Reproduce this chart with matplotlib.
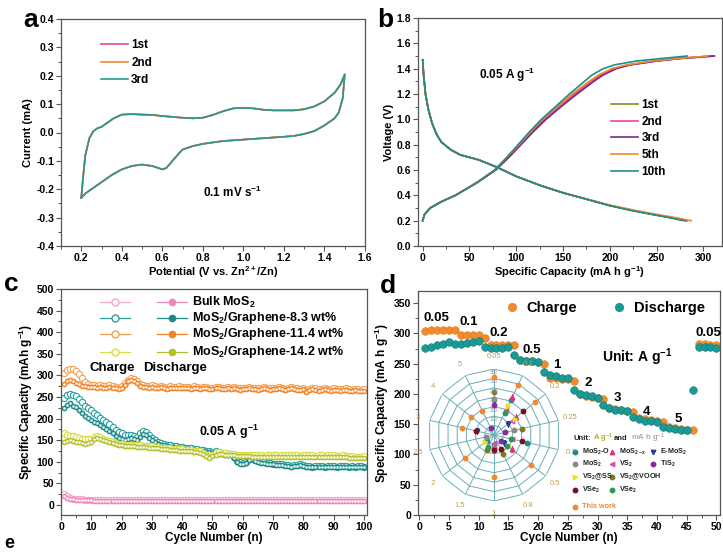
import numpy as np
import matplotlib
matplotlib.use("Agg")
import matplotlib.pyplot as plt
from matplotlib.lines import Line2D
from matplotlib.ticker import MultipleLocator

plt.rcParams['font.family'] = ['Liberation Sans', 'DejaVu Sans']
plt.rcParams['font.weight'] = 'bold'
plt.rcParams['axes.labelweight'] = 'bold'
plt.rcParams['mathtext.fontset'] = 'custom'
plt.rcParams['mathtext.rm'] = 'Liberation Sans:bold'
plt.rcParams['mathtext.it'] = 'Liberation Sans:bold'
plt.rcParams['mathtext.bf'] = 'Liberation Sans:bold'
plt.rcParams['mathtext.default'] = 'rm'

# ---------------- data ----------------
# (a) CV loop, 0.1 mV/s
cv_up_v = [0.2, 0.21, 0.22, 0.24, 0.26, 0.28, 0.3, 0.33, 0.36, 0.4, 0.45, 0.5, 0.55, 0.6, 0.65,
           0.7, 0.75, 0.8, 0.85, 0.9, 0.95, 1.0, 1.05, 1.1, 1.15, 1.2, 1.25, 1.3, 1.35, 1.4,
           1.45, 1.48, 1.5]
cv_up_i = [-0.23, -0.15, -0.08, -0.02, 0.005, 0.015, 0.02, 0.035, 0.05, 0.063, 0.065, 0.063,
           0.062, 0.058, 0.055, 0.052, 0.05, 0.052, 0.062, 0.075, 0.085, 0.087, 0.085, 0.08,
           0.078, 0.078, 0.078, 0.082, 0.092, 0.11, 0.14, 0.17, 0.205]
cv_dn_v = [1.5, 1.49, 1.47, 1.45, 1.4, 1.35, 1.3, 1.25, 1.2, 1.1, 1.0, 0.9, 0.8, 0.75, 0.7,
           0.68, 0.65, 0.62, 0.6, 0.58, 0.55, 0.5, 0.45, 0.4, 0.35, 0.3, 0.25, 0.22, 0.2]
cv_dn_i = [0.205, 0.12, 0.07, 0.05, 0.025, 0.005, -0.005, -0.012, -0.015, -0.02, -0.025, -0.03,
           -0.04, -0.048, -0.06, -0.075, -0.1, -0.125, -0.13, -0.125, -0.118, -0.113, -0.118,
           -0.13, -0.15, -0.175, -0.2, -0.215, -0.23]
cv_labels = ['1st', '2nd', '3rd']

# (b) charge / discharge profiles
gcd_labels = ['1st', '2nd', '3rd', '5th', '10th']
chg_volt = [0.2, 0.25, 0.3, 0.35, 0.4, 0.5, 0.6, 0.7, 0.8, 0.9, 1.0, 1.1, 1.2, 1.3, 1.35,
            1.4, 1.43, 1.46, 1.48, 1.5]
chg_cap_1 = [0, 2, 8, 20, 35, 58, 78, 91, 104, 116, 129, 145, 162, 180, 190, 204, 220, 248, 273, 310]
chg_cap_2 = [0, 2, 8, 20, 35, 58, 78, 92, 105, 117, 130, 146, 163, 181, 191, 205, 221, 249, 274, 310]
chg_cap_3 = [0, 2, 8, 20, 35, 58, 78, 92, 105, 118, 132, 148, 165, 183, 193, 207, 222, 250, 275, 312]
chg_cap_5 = [0, 2, 8, 20, 35, 57, 77, 90, 103, 115, 128, 144, 160, 178, 188, 202, 218, 245, 272, 305]
chg_cap_10 = [0, 2, 8, 20, 35, 58, 77, 90, 102, 114, 127, 142, 157, 173, 181, 193, 205, 228, 255, 283]
dis_volt = [1.47, 1.35, 1.2, 1.08, 0.97, 0.88, 0.82, 0.76, 0.72, 0.70, 0.68, 0.65, 0.62, 0.55,
            0.48, 0.42, 0.37, 0.32, 0.28, 0.245, 0.225, 0.2]
dis_cap = [0, 1, 3, 6, 10, 15, 20, 30, 40, 50, 60, 70, 80, 100, 125, 150, 175, 200, 225, 250, 265, 282]
dis_cap_5 = [0, 1, 3, 6, 10, 15, 20, 30, 40, 50, 60, 70, 80, 100, 125, 150, 176, 202, 228, 254, 270, 287]
dis_cap_10 = [0, 1, 3, 6, 10, 15, 20, 30, 40, 50, 60, 70, 80, 100, 125, 150, 175, 199, 223, 248, 263, 279]

# (c) cycling at 0.05 A/g
c_names = ['Bulk MoS$_2$', 'MoS$_2$/Graphene-8.3 wt%', 'MoS$_2$/Graphene-11.4 wt%',
           'MoS$_2$/Graphene-14.2 wt%']
bulk_chg = [25, 20, 17, 15, 14, 13, 13, 12, 12, 12, 12, 11, 11, 11, 11, 11, 11, 11, 11, 11,
            11, 11, 11, 11, 11, 11, 11, 11, 11, 11, 11, 11, 11, 11, 11, 11, 11, 11, 11, 11,
            11, 11, 11, 11, 11, 11, 11, 11, 11, 11, 11, 11, 11, 11, 11, 11, 11, 11, 11, 11,
            11, 11, 11, 11, 11, 11, 11, 11, 11, 11, 11, 11, 11, 11, 11, 11, 11, 11, 11, 11,
            11, 11, 11, 11, 11, 11, 11, 11, 11, 11, 11, 11, 11, 11, 11, 11, 11, 11, 11, 11]
bulk_dis = [20, 16, 14, 13, 12, 12, 11, 11, 11, 11, 10, 10, 10, 10, 10, 10, 10, 10, 10, 10,
            10, 10, 10, 10, 10, 10, 10, 10, 10, 10, 10, 10, 10, 10, 10, 10, 10, 10, 10, 10,
            10, 10, 10, 10, 10, 10, 10, 10, 10, 10, 9, 9, 9, 9, 9, 9, 9, 9, 9, 9,
            9, 9, 9, 9, 9, 9, 9, 9, 9, 9, 9, 9, 9, 9, 9, 9, 9, 9, 9, 9,
            9, 9, 9, 9, 9, 9, 9, 9, 9, 9, 9, 9, 9, 9, 9, 9, 9, 9, 9, 9]
g83_chg = [248, 254, 256, 255, 252, 245, 238, 230, 224, 219, 214, 208, 202, 197, 192, 187, 180, 174, 170, 166,
           163, 162, 163, 160, 158, 166, 171, 168, 161, 155, 150, 146, 143, 141, 140, 138, 137, 136, 135, 134,
           133, 132, 131, 130, 129, 128, 127, 126, 125, 123, 124, 122, 121, 120, 119, 118, 111, 103, 99, 97,
           100, 106, 108, 104, 101, 100, 99, 98, 97, 96, 95, 94, 95, 93, 92, 91, 92, 93, 94, 92,
           91, 90, 89, 90, 91, 90, 89, 90, 91, 90, 89, 90, 91, 90, 89, 90, 89, 90, 90, 89]
g83_dis = [225, 232, 236, 230, 226, 220, 212, 207, 202, 198, 193, 189, 185, 180, 176, 172, 166, 160, 156, 152,
           150, 152, 155, 152, 150, 158, 164, 162, 155, 150, 145, 142, 140, 138, 137, 135, 134, 133, 132, 131,
           130, 129, 128, 127, 126, 125, 124, 123, 122, 120, 121, 119, 118, 117, 116, 115, 108, 100, 96, 94,
           98, 104, 106, 102, 99, 98, 97, 96, 95, 94, 93, 92, 93, 91, 90, 89, 90, 91, 92, 90,
           89, 88, 87, 88, 89, 88, 87, 88, 89, 88, 87, 88, 89, 88, 87, 88, 87, 88, 88, 87]
g114_chg = [305, 312, 316, 314, 310, 303, 293, 284, 280, 278, 278, 276, 277, 275, 276, 277, 275, 273, 272, 275,
            282, 290, 294, 292, 286, 280, 277, 276, 275, 277, 275, 274, 276, 273, 272, 275, 274, 273, 275, 274,
            273, 274, 272, 275, 273, 271, 273, 274, 272, 271, 273, 274, 272, 271, 273, 272, 274, 271, 270, 272,
            271, 273, 272, 271, 270, 272, 273, 271, 270, 271, 272, 273, 271, 269, 271, 273, 271, 270, 269, 271,
            266, 269, 271, 270, 268, 269, 271, 269, 268, 270, 269, 268, 269, 270, 268, 267, 269, 268, 267, 268]
g114_dis = [280, 286, 289, 287, 283, 279, 276, 275, 274, 273, 274, 272, 273, 271, 272, 274, 271, 270, 268, 272,
            278, 286, 290, 288, 282, 276, 274, 273, 272, 274, 272, 271, 273, 270, 269, 272, 271, 270, 272, 271,
            270, 271, 269, 272, 270, 268, 270, 271, 269, 268, 270, 271, 269, 268, 270, 269, 271, 268, 267, 269,
            268, 270, 269, 268, 267, 269, 270, 268, 267, 268, 269, 270, 268, 266, 268, 270, 268, 267, 266, 268,
            262, 266, 268, 267, 265, 266, 268, 266, 265, 267, 266, 265, 266, 267, 265, 264, 266, 265, 264, 265]
g142_chg = [166, 163, 160, 159, 158, 156, 154, 152, 152, 154, 157, 159, 157, 153, 151, 148, 146, 144, 142, 141,
            140, 140, 139, 139, 138, 138, 137, 137, 136, 136, 135, 134, 133, 132, 132, 131, 130, 130, 129, 129,
            128, 127, 127, 126, 125, 124, 121, 117, 113, 116, 120, 122, 121, 120, 119, 118, 118, 117, 117, 116,
            116, 116, 115, 115, 115, 115, 114, 115, 115, 115, 115, 114, 115, 115, 115, 115, 115, 115, 114, 115,
            115, 115, 115, 114, 115, 115, 114, 115, 115, 115, 114, 114, 115, 114, 113, 113, 112, 111, 111, 113]
g142_dis = [145, 148, 150, 149, 147, 145, 143, 142, 144, 147, 152, 155, 154, 150, 148, 145, 143, 141, 139, 138,
            137, 137, 136, 136, 135, 135, 134, 134, 133, 133, 132, 131, 130, 129, 129, 128, 127, 127, 126, 126,
            125, 124, 124, 123, 122, 121, 118, 114, 110, 113, 117, 119, 118, 117, 116, 115, 115, 114, 114, 113,
            113, 113, 112, 112, 112, 112, 111, 112, 112, 112, 112, 111, 112, 112, 112, 112, 112, 112, 111, 112,
            112, 112, 112, 111, 112, 112, 111, 112, 112, 112, 111, 111, 112, 111, 110, 110, 109, 108, 108, 110]

# (d) rate performance
rate_chg = [304, 305, 305, 306, 306, 305, 298, 298, 297, 297, 293, 280, 280, 280, 280, 280,
            256, 255, 254, 252, 250, 227, 226, 225, 224, 221, 200, 197, 195, 194, 191,
            177, 175, 173, 172, 170, 161, 158, 157, 156, 154, 145, 143, 142, 141, 140,
            283, 282, 281, 280]
rate_dis = [276, 278, 280, 283, 286, 282, 283, 284, 286, 287, 277, 276, 276, 276, 277,
            265, 256, 255, 254, 253, 237, 231, 229, 227, 226, 207, 200, 198, 196, 194,
            182, 176, 174, 173, 172, 162, 158, 156, 155, 154, 146, 143, 142, 141, 140,
            206, 278, 278, 277, 276]
rate_names = ['0.05', '0.1', '0.2', '0.5', '1', '2', '3', '4', '5', '0.05']
rate_lab_x = [2.9, 8.4, 13.4, 19.0, 23.2, 28.5, 33.4, 38.3, 43.6, 48.6]
rate_lab_y = [325, 318, 300, 272, 248, 218, 193, 170, 158, 300]

# (d) inset radar: current density spokes and capacities
spokes = ['0.05', '0.1', '0.2', '0.25', '0.3', '0.5', '0.8', '1', '1.5', '2', '2.5', '3', '4', '5']
radar_sets = [
    # label, color, marker, rates, capacities
    ('MoS$_2$-O', '#1a8f8a', 'o', ['0.1', '0.3', '1', '2'], [205, 180, 70, 50]),
    ('MoS$_{2-x}$', '#e0307a', '^', ['0.1', '0.2', '0.5', '1'], [225, 150, 120, 60]),
    ('E-MoS$_2$', '#2a3a9a', 'v', ['0.05', '0.2', '0.5', '3'], [175, 95, 70, 90]),
    ('MoS$_2$', '#8a8a8a', 'o', ['0.05', '0.25', '1', '2.5'], [190, 110, 55, 45]),
    ('VS$_2$', '#d050b0', '<', ['0.1', '0.2', '0.3', '1'], [150, 120, 100, 40]),
    ('TiS$_2$', '#8a2a9a', 'o', ['0.05', '0.25', '0.5', '5'], [160, 60, 50, 40]),
    ('VS$_2$@SS', '#e8e020', '>', ['0.1', '0.2', '0.5', '2'], [170, 140, 95, 60]),
    ('VS$_2$@VOOH', '#7a7a20', 'o', ['0.05', '0.25', '0.8', '1.5'], [230, 150, 110, 90]),
    ('VSe$_2$', '#7a1020', 'o', ['0.2', '0.3', '0.8', '1', '3'], [200, 150, 80, 80, 100]),
    ('VSe$_2$', '#2a9a50', 'o', ['0.1', '0.3', '0.5', '1.5'], [130, 90, 90, 70]),
    ('This work', '#f08a30', 'o', ['0.05', '0.1', '0.2', '0.5', '1', '2', '3', '4', '5'],
     [305, 297, 280, 252, 225, 195, 172, 157, 141]),
]
radar_rings = [50, 100, 150, 200, 250, 300, 350]

# ---------------- helpers ----------------
W, H = 723, 553
SPINE = '#555555'


def px_rect(left, top, right, bottom):
    return [left / W, 1 - bottom / H, (right - left) / W, (bottom - top) / H]


def style(ax, xmaj, xmin, ymaj, ymin):
    for s in ax.spines.values():
        s.set_color(SPINE)
        s.set_linewidth(0.9)
    ax.xaxis.set_major_locator(MultipleLocator(xmaj))
    ax.xaxis.set_minor_locator(MultipleLocator(xmin))
    ax.yaxis.set_major_locator(MultipleLocator(ymaj))
    ax.yaxis.set_minor_locator(MultipleLocator(ymin))
    ax.tick_params(which='major', direction='out', length=3.5, width=0.8, color=SPINE,
                   labelsize=7.5, pad=1.5)
    ax.tick_params(which='minor', direction='out', length=2, width=0.7, color=SPINE)


fig = plt.figure(figsize=(7.23, 5.53), dpi=100)

# ---------------- (a) ----------------
ax = fig.add_axes(px_rect(61, 19, 365, 246))
cv_v = cv_up_v + cv_dn_v[1:]
cv_i = cv_up_i + cv_dn_i[1:]
for lab, col in zip(cv_labels, ['#e0488f', '#f28a30', '#2a9a90']):
    ax.plot(cv_v, cv_i, color=col, lw=1.2, label=lab)
ax.set_xlim(0.1, 1.6)
ax.set_ylim(-0.4, 0.4)
style(ax, 0.2, 0.1, 0.1, 0.05)
ax.set_yticks([0.4, 0.3, 0.2, 0.1, 0.0, -0.1, -0.2, -0.3, -0.4])
ax.set_yticklabels(['0.4', '0.3', '0.2', '0.1', '0.0', '-0.1', '-0.2', '-0.3', '-0.4'])
ax.set_xticks([0.2, 0.4, 0.6, 0.8, 1.0, 1.2, 1.4, 1.6])
ax.set_xlabel('Potential (V vs. Zn$^{2+}$/Zn)', fontsize=8, labelpad=1)
ax.set_ylabel('Current (mA)', fontsize=8, labelpad=2)
ax.text(0.8, -0.21, '0.1 mV s$^{-1}$', fontsize=8.5, ha='left', va='center')
ax.legend(loc='upper left', bbox_to_anchor=(0.13, 0.91), frameon=False, fontsize=8.5,
          handlelength=2.3, handletextpad=0.3, labelspacing=0.45, borderpad=0, borderaxespad=0)
fig.text(23 / W, 1 - 27 / H, 'a', fontsize=19, ha='left', va='baseline')

# ---------------- (b) ----------------
ax = fig.add_axes(px_rect(418, 18, 722, 246))
b_cols = ['#7f8f20', '#e8489a', '#7b2a8c', '#f28a30', '#1a8f8a']
chg_caps = [chg_cap_1, chg_cap_2, chg_cap_3, chg_cap_5, chg_cap_10]
dis_caps = [dis_cap, dis_cap, dis_cap, dis_cap_5, dis_cap_10]
for lab, col, cc, dc in zip(gcd_labels, b_cols, chg_caps, dis_caps):
    ax.plot(cc, chg_volt, color=col, lw=1.2, label=lab)
    ax.plot(dc, dis_volt, color=col, lw=1.2)
ax.set_xlim(-5, 320)
ax.set_ylim(0, 1.8)
style(ax, 50, 25, 0.2, 0.1)
ax.set_xlabel('Specific Capacity (mA h g$^{-1}$)', fontsize=8, labelpad=1)
ax.set_ylabel('Voltage (V)', fontsize=8, labelpad=2)
ax.text(60, 1.35, '0.05 A g$^{-1}$', fontsize=8.5, ha='left', va='center')
ax.legend(loc='upper left', bbox_to_anchor=(0.635, 0.645), frameon=False, fontsize=8.5,
          handlelength=2.3, handletextpad=0.3, labelspacing=0.4, borderpad=0, borderaxespad=0)
fig.text(377 / W, 1 - 27 / H, 'b', fontsize=19, ha='left', va='baseline')

# ---------------- (c) ----------------
ax = fig.add_axes(px_rect(61, 289, 367, 515))
cyc = np.arange(1, 101)
c_series = [(bulk_chg, bulk_dis, '#f4a8cc', '#ec88b8'),
            (g83_chg, g83_dis, '#2aa0a0', '#1a8a88'),
            (g114_chg, g114_dis, '#f5a050', '#f08428'),
            (g142_chg, g142_dis, '#d8dc40', '#b4c02a')]
for chg, dis, cc, dc in c_series:
    ax.plot(cyc, chg, color=cc, lw=0.8, marker='o', ms=4.5, mfc='white', mec=cc, mew=0.8)
    ax.plot(cyc, dis, color=dc, lw=0.8, marker='o', ms=3.6, mfc=dc, mec=dc, mew=0.5)
    ax.plot(cyc, dis, ls='none', marker='o', ms=1.0, color='white', alpha=0.8)
ax.set_xlim(0, 101)
ax.set_ylim(-23, 500)
style(ax, 10, 5, 50, 25)
ax.set_xticks(range(0, 101, 10))
ax.set_yticks(range(0, 501, 50))
ax.set_xlabel('Cycle Number (n)', fontsize=8.5, labelpad=0)
ax.set_ylabel('Specific Capacity (mAh g$^{-1}$)', fontsize=8.5, labelpad=1)
ax.text(9.5, 317, 'Charge', fontsize=9.5, ha='left', va='center')
ax.text(27, 317, 'Discharge', fontsize=9.5, ha='left', va='center')
ax.text(45.4, 169, '0.05 A g$^{-1}$', fontsize=9, ha='left', va='center')
leg_y = [0.942, 0.872, 0.801, 0.721]
for name, (chg, dis, cc, dc), yy in zip(c_names, c_series, leg_y):
    ax.plot([0.127, 0.176, 0.225], [yy] * 3, transform=ax.transAxes, color=cc, lw=0.9,
            marker='o', ms=5, mfc='white', mec=cc, markevery=[1])
    ax.plot([0.314, 0.363, 0.412], [yy] * 3, transform=ax.transAxes, color=dc, lw=0.9,
            marker='o', ms=4.5, mfc=dc, mec=dc, markevery=[1])
    ax.text(0.428, yy, name, transform=ax.transAxes, fontsize=9, ha='left', va='center')
fig.text(4 / W, 1 - 291 / H, 'c', fontsize=19, ha='left', va='baseline')

# ---------------- (d) ----------------
ax = fig.add_axes(px_rect(418, 291, 720, 515))
rc = np.arange(1, 51)
ax.plot(rc, rate_chg, ls='none', marker='o', ms=5.5, color='#f28a30', mec='#e07a20', mew=0.4,
        label='Charge')
ax.plot(rc, rate_dis, ls='none', marker='o', ms=5.5, color='#1a9a94', mec='#0f7a75', mew=0.4,
        label='Discharge')
ax.set_xlim(-0.2, 50.6)
ax.set_ylim(0, 370)
style(ax, 5, 2.5, 50, 25)
ax.set_xlabel('Cycle Number (n)', fontsize=8.5, labelpad=0)
ax.set_ylabel('Specific Capacity (mA h g$^{-1}$)', fontsize=8.5, labelpad=2)
for name, xx, yy in zip(rate_names, rate_lab_x, rate_lab_y):
    ax.text(xx, yy, name, fontsize=9.5, ha='center', va='center')
ax.text(30.7, 261, 'Unit: A g$^{-1}$', fontsize=10, ha='left', va='center')
ax.legend(loc='center', bbox_to_anchor=(0.62, 0.924), ncol=2, frameon=False, fontsize=10.5,
          handlelength=0.8, handletextpad=0.6, columnspacing=2.5, markerscale=1.1,
          borderpad=0, borderaxespad=0)
fig.text(380 / W, 1 - 293 / H, 'd', fontsize=19, ha='left', va='baseline')

# inset radar
rax = fig.add_axes(px_rect(428, 369, 560, 501), projection='polar')
rax.set_theta_zero_location('N')
rax.set_theta_direction(-1)
angles = np.linspace(0, 2 * np.pi, len(spokes), endpoint=False)
ang_of = dict(zip(spokes, angles))
ring_th = list(angles) + [angles[0]]
for rv in radar_rings:
    rax.plot(ring_th, [rv] * len(ring_th), color='#6aaeb5', lw=0.7)
for a in angles:
    rax.plot([a, a], [0, radar_rings[-1]], color='#6aaeb5', lw=0.7)
for lab, col, mk, rates, caps in radar_sets:
    rax.plot([ang_of[r] for r in rates], caps, ls='none', marker=mk, ms=3.2, color=col)
rax.set_ylim(0, 350)
rax.set_yticks([])
rax.set_xticks(angles)
rax.set_xticklabels(spokes, fontsize=5.5, color='#c0a050', fontweight='normal')
rax.tick_params(axis='x', pad=-1.5)
rax.grid(False)
rax.spines['polar'].set_visible(False)
rax.patch.set_alpha(0)
for rv in [100, 150, 200, 250, 300, 350]:
    rax.text(0, rv - 18, str(rv), fontsize=3.5, color='#999999', ha='center', va='center',
             fontweight='normal')

# inset legend
fig.text(573 / W, 1 - 438 / H, 'Unit:', fontsize=5.5, color='#222222', va='center')
fig.text(593 / W, 1 - 438 / H, 'A g$^{-1}$', fontsize=5.5, color='#b0b030', va='center')
fig.text(614 / W, 1 - 438 / H, 'and', fontsize=5.5, color='#222222', va='center')
fig.text(631 / W, 1 - 438 / H, 'mA h g$^{-1}$', fontsize=5.5, color='#aaaaaa', va='center')
leg_pos = [(575, 452), (612, 452), (653, 452), (575, 464), (612, 464), (653, 464),
           (575, 477), (612, 477), (575, 490), (612, 490), (575, 507)]
for (lab, col, mk, rates, caps), (lx, ly) in zip(radar_sets, leg_pos):
    fig.add_artist(Line2D([lx / W], [1 - ly / H], transform=fig.transFigure, ls='none',
                          marker=mk, ms=3.2, color=col))
    tcol = '#f08a30' if lab == 'This work' else '#222222'
    fig.text((lx + 7) / W, 1 - ly / H, lab, fontsize=5.2, color=tcol, va='center')

fig.text(4 / W, 0.001, 'e', fontsize=13, ha='left', va='bottom')

fig.savefig('out.png', dpi=100)
